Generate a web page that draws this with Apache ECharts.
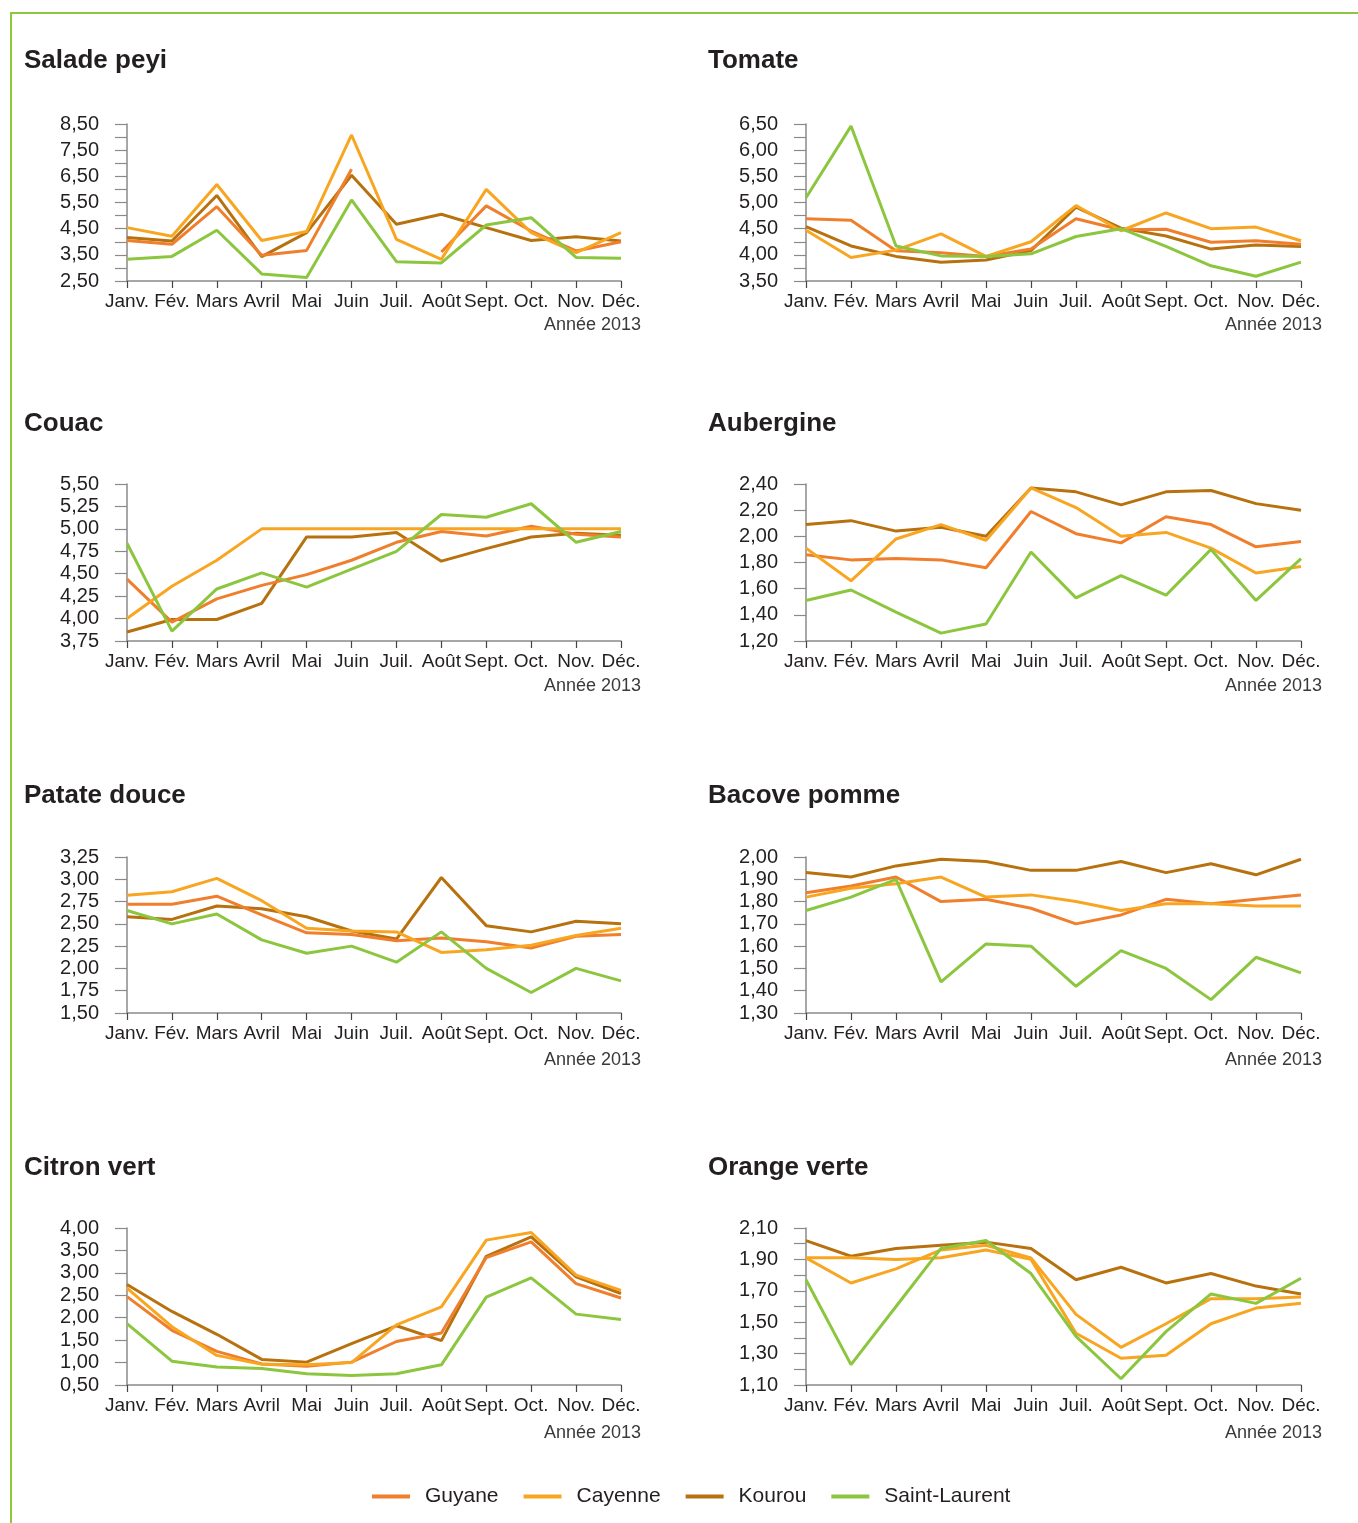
<!DOCTYPE html>
<html>
<head>
<meta charset="utf-8">
<script src="https://cdn.jsdelivr.net/npm/echarts@6/dist/echarts.min.js"></script>
<style>
  html, body { margin: 0; padding: 0; background: #fff; }
  #chart { width: 1358px; height: 1523px; }
  .frame {
    position: absolute;
    left: 10px;
    top: 12px;
    width: 1348px;
    height: 1511px;
    border-top: 2px solid #8dc63f;
    border-left: 2px solid #8dc63f;
    pointer-events: none;
  }
</style>
</head>
<body>
<div id="chart"></div>
<div class="frame"></div>
<script>
const months = ['Janv.', 'Fév.', 'Mars', 'Avril', 'Mai', 'Juin', 'Juil.', 'Août', 'Sept.', 'Oct.', 'Nov.', 'Déc.'];
const cities = ['Guyane', 'Cayenne', 'Kourou', 'Saint-Laurent'];
const yearLabel = 'Année 2013';

// Salade peyi
const saladeGuyane = [4.05, 3.90, 5.34, 3.48, 3.67, 6.77, null, 3.61, 5.37, 4.41, 3.65, 4.00];
const saladeCayenne = [4.54, 4.21, 6.19, 4.05, 4.39, 8.08, 4.09, 3.33, 6.00, 4.35, 3.58, 4.35];
const saladeKourou = [4.16, 4.03, 5.77, 3.43, 4.35, 6.54, 4.67, 5.05, 4.54, 4.05, 4.19, 4.03];
const saladeStLaurent = [3.33, 3.44, 4.44, 2.77, 2.63, 5.60, 3.24, 3.19, 4.64, 4.92, 3.40, 3.37];

// Tomate
const tomateGuyane = [4.69, 4.66, 4.08, 4.04, 3.97, 4.11, 4.69, 4.48, 4.49, 4.24, 4.27, 4.20];
const tomateCayenne = [4.47, 3.95, 4.09, 4.40, 3.97, 4.25, 4.94, 4.46, 4.80, 4.50, 4.53, 4.27];
const tomateKourou = [4.54, 4.17, 3.97, 3.86, 3.90, 4.08, 4.91, 4.51, 4.36, 4.11, 4.19, 4.16];
const tomateStLaurent = [5.09, 6.46, 4.17, 3.98, 3.97, 4.02, 4.35, 4.50, 4.16, 3.79, 3.59, 3.86];

// Couac
const couacGuyane = [4.44, 3.96, 4.22, 4.37, 4.49, 4.65, 4.85, 4.97, 4.92, 5.03, 4.94, 4.91];
const couacCayenne = [4.00, 4.36, 4.65, 5.00, 5.00, 5.00, 5.00, 5.00, 5.00, 5.00, 5.00, 5.00];
const couacKourou = [3.85, 3.99, 3.99, 4.17, 4.91, 4.91, 4.96, 4.64, 4.78, 4.91, 4.95, 4.93];
const couacStLaurent = [4.84, 3.86, 4.33, 4.51, 4.35, 4.55, 4.75, 5.16, 5.13, 5.28, 4.85, 4.97];

// Aubergine
const aubergineGuyane = [1.86, 1.82, 1.83, 1.82, 1.76, 2.19, 2.02, 1.95, 2.15, 2.09, 1.92, 1.96];
const aubergineCayenne = [1.91, 1.66, 1.98, 2.09, 1.97, 2.37, 2.22, 2.00, 2.03, 1.91, 1.72, 1.77];
const aubergineKourou = [2.09, 2.12, 2.04, 2.07, 2.00, 2.37, 2.34, 2.24, 2.34, 2.35, 2.25, 2.20];
const aubergineStLaurent = [1.51, 1.59, 1.42, 1.26, 1.33, 1.88, 1.53, 1.70, 1.55, 1.90, 1.51, 1.83];

// Patate douce
const patateGuyane = [2.72, 2.72, 2.81, 2.60, 2.40, 2.38, 2.31, 2.34, 2.30, 2.23, 2.36, 2.38];
const patateCayenne = [2.82, 2.86, 3.01, 2.76, 2.45, 2.42, 2.41, 2.18, 2.21, 2.26, 2.37, 2.45];
const patateKourou = [2.58, 2.55, 2.70, 2.67, 2.58, 2.42, 2.33, 3.02, 2.48, 2.41, 2.53, 2.50];
const patateStLaurent = [2.65, 2.50, 2.61, 2.32, 2.17, 2.25, 2.07, 2.41, 2.00, 1.73, 2.00, 1.86];

// Bacove pomme
const bacoveGuyane = [1.84, 1.87, 1.91, 1.80, 1.81, 1.77, 1.70, 1.74, 1.81, 1.79, 1.81, 1.83];
const bacoveCayenne = [1.82, 1.86, 1.88, 1.91, 1.82, 1.83, 1.80, 1.76, 1.79, 1.79, 1.78, 1.78];
const bacoveKourou = [1.93, 1.91, 1.96, 1.99, 1.98, 1.94, 1.94, 1.98, 1.93, 1.97, 1.92, 1.99];
const bacoveStLaurent = [1.76, 1.82, 1.90, 1.44, 1.61, 1.60, 1.42, 1.58, 1.50, 1.36, 1.55, 1.48];

// Citron vert
const citronGuyane = [2.47, 1.72, 1.25, 0.97, 0.92, 1.01, 1.47, 1.66, 3.34, 3.69, 2.76, 2.44];
const citronCayenne = [2.66, 1.80, 1.16, 0.96, 0.95, 1.00, 1.84, 2.24, 3.73, 3.90, 2.95, 2.61];
const citronKourou = [2.74, 2.14, 1.63, 1.07, 1.01, 1.42, 1.82, 1.49, 3.37, 3.80, 2.91, 2.54];
const citronStLaurent = [1.87, 1.03, 0.90, 0.87, 0.75, 0.71, 0.75, 0.95, 2.46, 2.89, 2.08, 1.96];

// Orange verte
const orangeGuyane = [1.91, 1.91, 1.90, 1.91, 1.96, 1.90, 1.43, 1.27, 1.29, 1.49, 1.59, 1.62];
const orangeCayenne = [1.91, 1.75, 1.84, 1.96, 1.99, 1.91, 1.55, 1.34, 1.49, 1.65, 1.65, 1.66];
const orangeKourou = [2.02, 1.92, 1.97, 1.99, 2.01, 1.97, 1.77, 1.85, 1.75, 1.81, 1.73, 1.68];
const orangeStLaurent = [1.77, 1.23, 1.60, 1.97, 2.02, 1.81, 1.41, 1.14, 1.44, 1.68, 1.62, 1.78];

const colors = {
  Guyane: '#ef7f2c',
  Cayenne: '#f8a622',
  Kourou: '#b7720f',
  'Saint-Laurent': '#8cc63f',
};

// placement des 8 petits graphiques (colonne gauche / droite, 4 lignes)
const colX = [127, 806];
const colW = [494, 495];
const rowTop = [124, 484, 857, 1228];
const rowH = [157, 157, 156, 157];
const titleY = [43, 406, 778, 1150];
const yearY = [316, 677, 1051, 1424];

const panels = [
  { title: 'Salade peyi', min: 2.5, max: 8.5, step: 0.5, every: 2, col: 0, row: 0,
    data: [saladeGuyane, saladeCayenne, saladeKourou, saladeStLaurent] },
  { title: 'Tomate', min: 3.5, max: 6.5, step: 0.25, every: 2, col: 1, row: 0,
    data: [tomateGuyane, tomateCayenne, tomateKourou, tomateStLaurent] },
  { title: 'Couac', min: 3.75, max: 5.5, step: 0.25, every: 1, col: 0, row: 1,
    data: [couacGuyane, couacCayenne, couacKourou, couacStLaurent] },
  { title: 'Aubergine', min: 1.2, max: 2.4, step: 0.2, every: 1, col: 1, row: 1,
    data: [aubergineGuyane, aubergineCayenne, aubergineKourou, aubergineStLaurent] },
  { title: 'Patate douce', min: 1.5, max: 3.25, step: 0.25, every: 1, col: 0, row: 2,
    data: [patateGuyane, patateCayenne, patateKourou, patateStLaurent] },
  { title: 'Bacove pomme', min: 1.3, max: 2.0, step: 0.1, every: 1, col: 1, row: 2,
    data: [bacoveGuyane, bacoveCayenne, bacoveKourou, bacoveStLaurent] },
  { title: 'Citron vert', min: 0.5, max: 4.0, step: 0.5, every: 1, col: 0, row: 3,
    data: [citronGuyane, citronCayenne, citronKourou, citronStLaurent] },
  // dans l'original la courbe Guyane de ce graphique est dessinée dans la couleur de Cayenne
  { title: 'Orange verte', min: 1.1, max: 2.1, step: 0.1, every: 2, col: 1, row: 3,
    data: [orangeGuyane, orangeCayenne, orangeKourou, orangeStLaurent],
    colorFix: { Guyane: colors.Cayenne } },
];

const axisColor = '#8a8a8a';
const textColor = '#231f20';
const font = 'Liberation Sans, Arial, sans-serif';

const grids = [];
const xAxes = [];
const yAxes = [];
const titles = [];
const graphics = [];
const series = [];

panels.forEach((p, i) => {
  grids.push({
    left: colX[p.col],
    top: rowTop[p.row],
    width: colW[p.col],
    height: rowH[p.row],
  });

  xAxes.push({
    type: 'category',
    gridIndex: i,
    data: months,
    boundaryGap: false,
    axisLine: { lineStyle: { color: axisColor, width: 1.5 } },
    axisTick: { alignWithLabel: true, length: 7, lineStyle: { color: '#444', width: 1.2 } },
    axisLabel: { color: textColor, fontSize: 19, fontFamily: font, margin: 11, interval: 0 },
    splitLine: { show: false },
  });

  yAxes.push({
    type: 'value',
    gridIndex: i,
    min: p.min,
    max: p.max,
    interval: p.step,
    axisLine: { show: true, lineStyle: { color: axisColor, width: 1.5 } },
    axisTick: { show: true, length: 12, lineStyle: { color: axisColor, width: 1.2 } },
    axisLabel: {
      color: textColor,
      fontSize: 20,
      fontFamily: font,
      margin: 28,
      formatter: (v) => {
        const k = Math.round((v - p.min) / p.step);
        if (k % p.every !== 0) return '';
        return v.toFixed(2).replace('.', ',');
      },
    },
    splitLine: { show: false },
  });

  titles.push({
    text: p.title,
    left: p.col === 0 ? 19 : 703,
    top: titleY[p.row],
    textStyle: { fontSize: 26, fontWeight: 'bold', color: textColor, fontFamily: font },
  });

  graphics.push({
    type: 'text',
    right: p.col === 0 ? 717 : 36,
    top: yearY[p.row],
    style: { text: yearLabel, fill: '#3a3a3a', font: '18px ' + font },
  });

  // ordre de dessin: Kourou, Guyane, Cayenne, Saint-Laurent
  [2, 0, 1, 3].forEach((c) => {
    const name = cities[c];
    const col = (p.colorFix && p.colorFix[name]) || colors[name];
    series.push({
      name: name,
      type: 'line',
      xAxisIndex: i,
      yAxisIndex: i,
      data: p.data[c],
      showSymbol: false,
      connectNulls: false,
      itemStyle: { color: colors[name] },
      lineStyle: { color: col, width: 3 },
      emphasis: { disabled: true },
    });
  });
});

const chart = echarts.init(document.getElementById('chart'));
chart.setOption({
  animation: false,
  backgroundColor: '#fff',
  title: titles,
  grid: grids,
  xAxis: xAxes,
  yAxis: yAxes,
  graphic: graphics,
  legend: {
    data: cities,
    left: 367,
    top: 1481,
    icon: 'rect',
    itemWidth: 38,
    itemHeight: 4,
    itemGap: 25,
    textStyle: { fontSize: 21, color: textColor, fontFamily: font, padding: [0, 0, 0, 10] },
  },
  series: series,
});
</script>
</body>
</html>
